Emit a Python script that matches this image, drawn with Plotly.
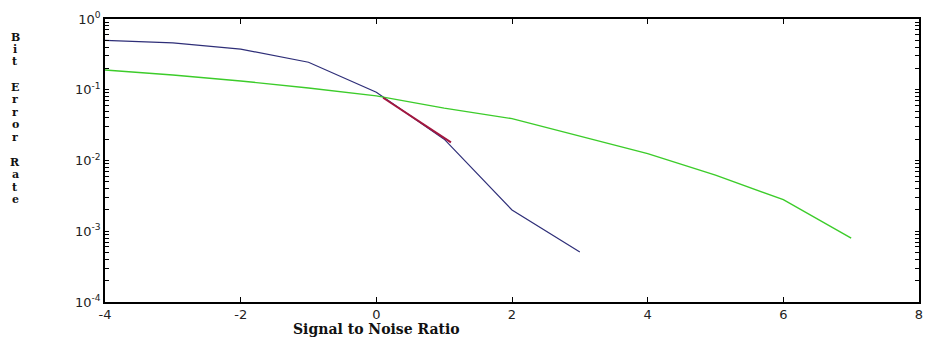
import plotly.graph_objects as go

snr = [-4, -3, -2, -1, 0, 1, 2, 3]
ber_blue = [0.50, 0.46, 0.375, 0.245, 0.092, 0.020, 0.0020, 0.00051]

snr_green = [-4, -3, -2, -1, 0, 1, 2, 3, 4, 5, 6, 7]
ber_green = [0.19, 0.162, 0.133, 0.106, 0.082, 0.055, 0.039, 0.022, 0.0125, 0.0062, 0.0028, 0.00080]

snr_red = [0.1, 1.1]
ber_red = [0.077, 0.018]

x_ticks = [-4, -2, 0, 2, 4, 6, 8]
x_tick_text = ["-4", "-2", "0", "2", "4", "6", "8"]
y_ticks = [1e-4, 1e-3, 1e-2, 1e-1, 1]
y_tick_text = ["10<sup>-4</sup>", "10<sup>-3</sup>", "10<sup>-2</sup>", "10<sup>-1</sup>", "10<sup>0</sup>"]
y_label = "Bit Error Rate"

# major decade ticks with labels, plus unlabelled minor ticks 2..9 in each decade
all_ticks, all_text = [], []
for e in range(-4, 1):
    all_ticks.append(10.0 ** e)
    all_text.append(y_tick_text[e + 4])
    if e < 0:
        for m in range(2, 10):
            all_ticks.append(m * 10.0 ** e)
            all_text.append("")

fig = go.Figure()
fig.add_trace(go.Scatter(x=snr, y=ber_blue, mode="lines",
                         line=dict(color="#2e2e78", width=1.2), showlegend=False))
fig.add_trace(go.Scatter(x=snr_green, y=ber_green, mode="lines",
                         line=dict(color="#3ccc2a", width=1.4), showlegend=False))
fig.add_trace(go.Scatter(x=snr_red, y=ber_red, mode="lines",
                         line=dict(color="#a3173f", width=2), showlegend=False))

tick_font = dict(family="DejaVu Sans", size=13, color="#222")

fig.update_layout(
    xaxis=dict(range=[-4, 8], tickvals=x_ticks, ticktext=x_tick_text, ticks="inside",
               ticklen=5, tickcolor="#000", showline=True, linecolor="#000", linewidth=1.5,
               mirror="ticks", showgrid=False, zeroline=False, tickfont=tick_font),
    yaxis=dict(type="log", range=[-4, 0], tickmode="array", tickvals=all_ticks,
               ticktext=all_text, ticks="inside", ticklen=4, tickwidth=1,
               tickcolor="#000", showline=True, linecolor="#000", linewidth=1.5,
               mirror="ticks", showgrid=False, zeroline=False, tickfont=tick_font),
)

# stacked vertical label, one letter per line with blank lines between words
plot_top, plot_bottom = 19, 302
line_h = 12.5
py = 37
for ch in y_label:
    if ch == " ":
        py += line_h
        continue
    fig.add_annotation(text="<b>" + ch + "</b>", xref="paper", yref="paper",
                       x=(15 - 105) / 818, y=(plot_bottom - py) / (plot_bottom - plot_top),
                       xanchor="center", yanchor="middle", showarrow=False,
                       font=dict(family="DejaVu Serif", size=11, color="#111"))
    py += line_h

fig.add_annotation(text="<b>Signal to Noise Ratio</b>", xref="x", yref="paper",
                   x=0, y=-(329 - plot_bottom) / (plot_bottom - plot_top),
                   xanchor="center", yanchor="middle", showarrow=False,
                   font=dict(family="DejaVu Serif", size=14, color="#111"))

fig.update_layout(width=928, height=337, margin=dict(l=105, r=5, t=19, b=35),
                  plot_bgcolor="white", paper_bgcolor="white")

fig.write_html("out.html")
